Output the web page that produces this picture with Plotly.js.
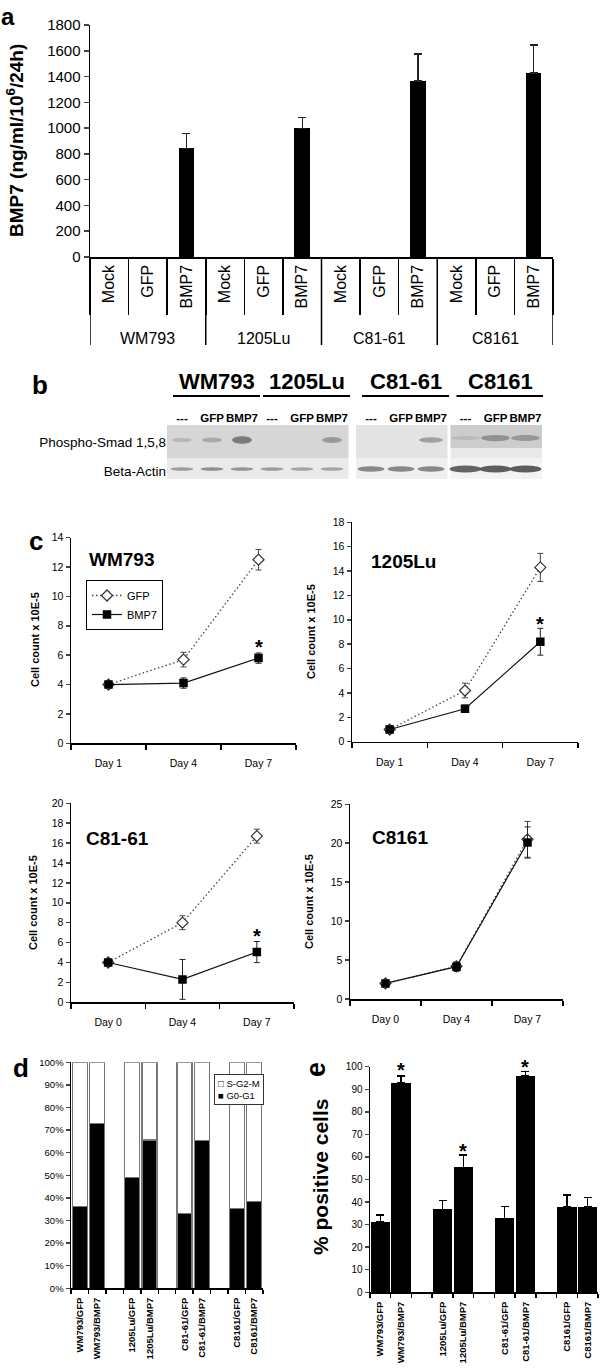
<!DOCTYPE html>
<html><head><meta charset="utf-8">
<script src="https://cdn.plot.ly/plotly-3.0.1.min.js"></script>
<style>html,body{margin:0;padding:0;background:#fff;} #chart{width:600px;height:1368px;}</style>
</head><body><div id="chart"></div>
<script>
// ---------------- DATA ----------------
// Panel a: BMP7 secretion (ng/ml/10^6/24h)
const aGroups = ['WM793', '1205Lu', 'C81-61', 'C8161'];
const aConditions = ['Mock', 'GFP', 'BMP7'];
const aValues = [0, 0, 842, 0, 0, 998, 0, 0, 1365, 0, 0, 1427];
const aErrors = [null, null, 117, null, null, 85, null, null, 210, null, null, 218];
const aYTicks = [0, 200, 400, 600, 800, 1000, 1200, 1400, 1600, 1800];

// Panel b: western blot (relative band signal 0..1)
const blotGroups = ['WM793', '1205Lu', 'C81-61', 'C8161'];
const blotGroupLanes = [[0, 2], [3, 5], [6, 8], [9, 11]];
const blotMembranes = [[0, 5], [6, 8], [9, 11]];
const blotLaneLabels = ['---', 'GFP', 'BMP7', '---', 'GFP', 'BMP7', '---', 'GFP', 'BMP7', '---', 'GFP', 'BMP7'];
const blotRows = ['Phospho-Smad 1,5,8', 'Beta-Actin'];
const blotPhospho = [0.25, 0.35, 0.75, 0, 0, 0.5, 0, 0, 0.45, 0.2, 0.55, 0.5];
const blotActin = [0.45, 0.55, 0.5, 0.45, 0.4, 0.4, 0.6, 0.6, 0.6, 0.85, 0.9, 0.9];

// Panel c: growth curves (cell count x 10E-5)
const daysA = ['Day 1', 'Day 4', 'Day 7'];
const daysB = ['Day 0', 'Day 4', 'Day 7'];
const wm793Gfp = [4.0, 5.7, 12.5], wm793GfpErr = [0.05, 0.5, 0.7];
const wm793Bmp = [4.0, 4.1, 5.8], wm793BmpErr = [0.05, 0.35, 0.35];
const lu1205Gfp = [1.0, 4.2, 14.3], lu1205GfpErr = [0.1, 0.6, 1.15];
const lu1205Bmp = [1.0, 2.7, 8.2], lu1205BmpErr = [0.1, 0.3, 1.1];
const c8161aGfp = [4.0, 8.0, 16.7], c8161aGfpErr = [0.1, 0.7, 0.7];
const c8161aBmp = [4.0, 2.3, 5.05], c8161aBmpErr = [0.1, 2.0, 1.06];
const c8161Gfp = [2.0, 4.2, 20.5], c8161GfpErr = [0.1, 0.5, 2.3];
const c8161Bmp = [2.0, 4.15, 20.1], c8161BmpErr = [0.1, 0.6, 2.0];
const growthStars = [6.8, 10.0, 7.1, null];

// Panel d: cell cycle distribution (%)
const dSamples = ['WM793/GFP', 'WM793/BMP7', '1205Lu/GFP', '1205Lu/BMP7', 'C81-61/GFP', 'C81-61/BMP7', 'C8161/GFP', 'C8161/BMP7'];
const dG0G1 = [36.1, 73.0, 49.1, 65.6, 33.2, 65.3, 35.4, 38.3];
const dSG2M = dG0G1.map(v => 100 - v);

// Panel e: % positive cells
const eSamples = dSamples;
const eValues = [31.3, 92.9, 36.8, 55.4, 32.8, 95.9, 37.9, 37.9];
const eErrors = [3.0, 3.0, 3.8, 5.5, 5.1, 1.9, 5.2, 4.2];
const eStars = [null, 100.3, null, 64.2, null, 101.6, null, null];

// ---------------- LAYOUT HELPERS ----------------
const W = 600, H = 1368;
const FONT = 'Liberation Sans, Arial, Helvetica, sans-serif';
const dx = (a, b) => [a / W, b / W];
const dy = (top, bottom) => [1 - bottom / H, 1 - top / H];
const px = p => p / W;
const py = p => 1 - p / H;

const traces = [];
const shapes = [];
const annotations = [];
const layout = {
  width: W, height: H, margin: {l: 0, r: 0, t: 0, b: 0},
  paper_bgcolor: '#fff', plot_bgcolor: 'rgba(0,0,0,0)',
  font: {family: FONT, size: 12, color: '#000'},
  showlegend: true, barmode: 'stack', hovermode: false,
  legend: {x: px(86), y: py(580), xanchor: 'left', yanchor: 'top', bgcolor: '#fff', traceorder: 'normal',
           bordercolor: '#000', borderwidth: 1, font: {size: 11}, tracegroupgap: 0, itemwidth: 30}
};
const baseAxis = {showgrid: false, zeroline: false, showline: true, linecolor: '#000', linewidth: 1.5, fixedrange: true};
function label(text, x, y, size, angle, yanchor) {
  annotations.push({text: '<b>' + text + '</b>', x: px(x), y: py(y), xref: 'paper', yref: 'paper',
    showarrow: false, xanchor: 'center', yanchor: yanchor || 'middle', textangle: angle || 0, font: {size: size}});
}
function star(x, y, xa, ya, ymax, pxPerUnit) {
  // keep the annotation inside the axis range; shift it up by the overflow in pixels
  const yy = Math.min(y, ymax);
  annotations.push({text: '<b>*</b>', x: x, y: yy, xref: xa, yref: ya, showarrow: false,
    yshift: -4 + (y - yy) * pxPerUnit, font: {size: 20}});
}

// ---------------- PANEL A ----------------
const aX = aValues.map((_, i) => i);
const aLabels = aGroups.flatMap(() => aConditions);
traces.push({type: 'bar', x: aX, y: aValues, width: 0.4, marker: {color: '#000'}, showlegend: false,
  xaxis: 'x', yaxis: 'y',
  error_y: {type: 'data', symmetric: false, array: aErrors.map(e => e == null ? NaN : e),
            arrayminus: aErrors.map(e => e == null ? NaN : 0), color: '#222', thickness: 1.2, width: 4}});
layout.xaxis = Object.assign({}, baseAxis, {domain: dx(90, 553), anchor: 'y', range: [-0.5, 11.5],
  tickmode: 'array', tickvals: aX, ticktext: aLabels, tickangle: -90, ticks: '', tickfont: {size: 16},
  minor: {tickmode: 'array', tickvals: aX.map(i => i - 0.5).concat([aX.length - 0.5]), ticks: 'outside',
          ticklen: 56, tickwidth: 1.5, tickcolor: '#000'}});
layout.yaxis = Object.assign({}, baseAxis, {domain: dy(25, 257), anchor: 'x', range: [0, 1800],
  tickmode: 'array', tickvals: aYTicks, ticks: 'outside', ticklen: 5, tickwidth: 1.5, tickfont: {size: 15}});
aGroups.forEach((g, gi) => {
  const n = aConditions.length;
  annotations.push({text: g, x: gi * n + (n - 1) / 2, xref: 'x', y: py(338), yref: 'paper', showarrow: false,
    xanchor: 'center', yanchor: 'middle', font: {size: 16}});
});
for (let gi = 0; gi <= aGroups.length; gi++) {
  const xb = gi * aConditions.length - 0.5;
  shapes.push({type: 'line', xref: 'x', yref: 'paper', x0: xb, x1: xb, y0: py(257), y1: py(345),
    line: {color: '#000', width: 1.5}});
}
label('BMP7 (ng/ml/10<sup>6</sup>/24h)', 15, 141, 19, -90);
label('a', 8, 1, 24, 0, 'top');

// ---------------- PANEL B (blot) ----------------
const membraneOffset = [0, 0.3, 0.45];
const laneMembrane = blotLaneLabels.map((_, i) => blotMembranes.findIndex(m => i >= m[0] && i <= m[1]));
const lanePos = blotLaneLabels.map((_, i) => i + membraneOffset[laneMembrane[i]]);
traces.push({type: 'scatter', x: [], y: [], xaxis: 'x8', yaxis: 'y8', showlegend: false});
layout.xaxis8 = {domain: dx(167, 543), anchor: 'y8', range: [-0.5, 12.033], side: 'top',
  tickmode: 'array', tickvals: lanePos, ticktext: blotLaneLabels.map(t => '<b>' + t + '</b>'), tickangle: 0,
  ticks: '', showline: false, showgrid: false, zeroline: false, fixedrange: true,
  tickfont: {size: 11.5}};
layout.yaxis8 = {domain: dy(425, 479), anchor: 'x8', range: [54, 0], tickmode: 'array',
  tickvals: [17, 46], ticktext: blotRows, ticks: '', showline: false, showgrid: false, zeroline: false,
  fixedrange: true, tickfont: {size: 13.5}};
const memPhosBg = ['#d6d6d6', '#e3e3e3', '#cccccc'];
const memPhosBottom = [32, 32, 23];
const memMidBg = ['#d6d6d6', '#e3e3e3', '#e9e9e9'];
const memActBg = ['#eaeaea', '#efefef', '#f3f3f3'];
const memBandHW = [0.33, 0.4, 0.48];
const memActHH = [1.8, 2.8, 3.6];
blotMembranes.forEach((m, mi) => {
  const x0 = lanePos[m[0]] - 0.5, x1 = lanePos[m[1]] + 0.55;
  shapes.push({type: 'rect', xref: 'x8', yref: 'y8', x0, x1, y0: 0, y1: memPhosBottom[mi], line: {width: 0}, fillcolor: memPhosBg[mi], layer: 'below'});
  shapes.push({type: 'rect', xref: 'x8', yref: 'y8', x0, x1, y0: memPhosBottom[mi], y1: 33, line: {width: 0}, fillcolor: memMidBg[mi], layer: 'below'});
  shapes.push({type: 'rect', xref: 'x8', yref: 'y8', x0, x1, y0: 33, y1: 54, line: {width: 0}, fillcolor: memActBg[mi], layer: 'below'});
});
const gray = v => { const g = Math.round(v); return 'rgb(' + g + ',' + g + ',' + g + ')'; };
blotLaneLabels.forEach((_, i) => {
  const mi = laneMembrane[i], cx = lanePos[i];
  const s = blotPhospho[i];
  if (s > 0) {
    const hw = memBandHW[mi], hh = 1.2 + 3.5 * s, cy = mi === 2 ? 13 : 15;
    shapes.push({type: 'circle', xref: 'x8', yref: 'y8', x0: cx - hw, x1: cx + hw, y0: cy - hh, y1: cy + hh,
      line: {width: 0}, fillcolor: gray(210 - 130 * s), opacity: 0.9});
  }
  const a = blotActin[i];
  const hwA = memBandHW[mi] + 0.05, hhA = memActHH[mi], cyA = 44;
  shapes.push({type: 'circle', xref: 'x8', yref: 'y8', x0: cx - hwA, x1: cx + hwA, y0: cyA - hhA, y1: cyA + hhA,
    line: {width: 0}, fillcolor: gray(220 - 160 * a), opacity: 0.9});
});
blotGroups.forEach((g, gi) => {
  const l = blotGroupLanes[gi];
  const x0 = lanePos[l[0]] - 0.3, x1 = lanePos[l[1]] + 0.6;
  shapes.push({type: 'line', xref: 'x8', yref: 'paper', x0, x1, y0: py(396), y1: py(396), line: {color: '#000', width: 2}});
  annotations.push({text: '<b>' + g + '</b>', x: (x0 + x1) / 2, xref: 'x8', y: py(382), yref: 'paper',
    showarrow: false, xanchor: 'center', yanchor: 'middle', font: {size: 22}});
});
label('b', 40, 385, 26);

// ---------------- PANEL C ----------------
function growth(n, xd, yd, yrange, dtick, days, gfp, gfpErr, bmp, bmpErr, st, title, tpos, ytpos, leg) {
  const xa = 'x' + n, ya = 'y' + n;
  traces.push({type: 'scatter', mode: 'lines+markers', name: 'GFP', x: [0, 1, 2], y: gfp, xaxis: xa, yaxis: ya,
    showlegend: leg, line: {color: '#444', width: 1.3, dash: '1.5px,2.5px'},
    marker: {symbol: 'diamond', size: 8.5, color: '#fff', line: {color: '#333', width: 1.2}},
    error_y: {type: 'data', array: gfpErr, color: '#444', thickness: 1, width: 3}});
  traces.push({type: 'scatter', mode: 'lines+markers', name: 'BMP7', x: [0, 1, 2], y: bmp, xaxis: xa, yaxis: ya,
    showlegend: leg, line: {color: '#111', width: 1.2},
    marker: {symbol: 'square', size: 8.5, color: '#000'},
    error_y: {type: 'data', array: bmpErr, color: '#222', thickness: 1, width: 3}});
  layout['xaxis' + n] = Object.assign({}, baseAxis, {domain: xd, anchor: ya, range: [-0.5, 2.5],
    tickmode: 'array', tickvals: [0, 1, 2], ticktext: days, ticks: '', tickfont: {size: 10.5}, ticklabelstandoff: 10,
    minor: {tickmode: 'array', tickvals: [-0.5, 0.5, 1.5, 2.5], ticks: 'outside', ticklen: 5, tickwidth: 1.5, tickcolor: '#000'}});
  const yPx = (yd[1] - yd[0]) * H / (yrange[1] - yrange[0]);
  layout['yaxis' + n] = Object.assign({}, baseAxis, {domain: yd, anchor: xa, range: yrange, dtick: dtick,
    ticks: 'outside', ticklen: 4, tickwidth: 1.5, tickfont: {size: 10.5}});
  if (st != null) star(2, st, xa, ya, yrange[1], yPx);
  label(title, tpos[0], tpos[1], 19);
  label('Cell count x 10E-5', ytpos[0], ytpos[1], 11, -90);
}
growth(2, dx(71, 296), dy(537.7, 743.3), [0, 14], 2, daysA, wm793Gfp, wm793GfpErr, wm793Bmp, wm793BmpErr, growthStars[0], 'WM793', [121.5, 559], [35, 640], true);
growth(3, dx(352, 578), dy(522.3, 741.7), [0, 18], 2, daysA, lu1205Gfp, lu1205GfpErr, lu1205Bmp, lu1205BmpErr, growthStars[1], '1205Lu', [403.5, 561], [311, 632], false);
growth(4, dx(71, 294), dy(803.3, 1002.3), [0, 20], 2, daysB, c8161aGfp, c8161aGfpErr, c8161aBmp, c8161aBmpErr, growthStars[2], 'C81-61', [117.5, 838.5], [33, 903], false);
growth(5, dx(350, 563), dy(804.3, 999), [0, 25], 5, daysB, c8161Gfp, c8161GfpErr, c8161Bmp, c8161BmpErr, growthStars[3], 'C8161', [400, 837.5], [309, 902], false);
label('c', 36, 541, 26);

// ---------------- PANEL D ----------------
const pos = dSamples.map((_, i) => i + Math.floor(i / 2));
traces.push({type: 'bar', name: 'G0-G1', x: pos, y: dG0G1, width: 0.86, xaxis: 'x6', yaxis: 'y6', showlegend: false,
  marker: {color: '#000', line: {color: '#777', width: 1.2}}});
traces.push({type: 'bar', name: 'S-G2-M', x: pos, y: dSG2M, width: 0.86, xaxis: 'x6', yaxis: 'y6', showlegend: false,
  marker: {color: '#fff', line: {color: '#777', width: 1.2}}});
const catAxis = (xd, anchor, labels) => Object.assign({}, baseAxis, {domain: xd, anchor: anchor, range: [-0.5, 10.5],
  tickmode: 'array', tickvals: pos, ticktext: labels.map(t => '<b>' + t + '</b>'), tickangle: -90, ticks: '',
  tickfont: {size: 9.5}, ticklabelstandoff: 4,
  minor: {tickmode: 'linear', tick0: -0.5, dtick: 1, ticks: 'outside', ticklen: 4, tickwidth: 1.5, tickcolor: '#000'}});
layout.xaxis6 = catAxis(dx(71, 263), 'y6', dSamples);
layout.yaxis6 = Object.assign({}, baseAxis, {domain: dy(1062.3, 1288.3), anchor: 'x6', range: [0, 100], dtick: 10,
  ticksuffix: '%', ticks: 'outside', ticklen: 4, tickwidth: 1.5, tickfont: {size: 9.5}});
annotations.push({text: '\u25A1 S-G2-M<br>\u25A0 G0-G1', x: px(214), y: py(1074), xref: 'paper', yref: 'paper',
  xanchor: 'left', yanchor: 'top', align: 'left', showarrow: false, bgcolor: '#fff', bordercolor: '#333',
  borderwidth: 1, borderpad: 3, font: {size: 9.5}});
label('d', 21, 1068, 26);

// ---------------- PANEL E ----------------
traces.push({type: 'bar', x: pos, y: eValues, width: 0.94, xaxis: 'x7', yaxis: 'y7', showlegend: false,
  marker: {color: '#000'},
  error_y: {type: 'data', symmetric: false, array: eErrors, arrayminus: eErrors.map(() => 0), color: '#000', thickness: 1.2, width: 4}});
layout.xaxis7 = catAxis(dx(370, 598), 'y7', eSamples);
const eDom = dy(1066.7, 1292.3);
layout.yaxis7 = Object.assign({}, baseAxis, {domain: eDom, anchor: 'x7', range: [0, 100], dtick: 10,
  ticks: 'outside', ticklen: 4, tickwidth: 1.5, tickfont: {size: 10}});
eStars.forEach((s, i) => { if (s != null) star(pos[i], s, 'x7', 'y7', 100, (eDom[1] - eDom[0]) * H / 100); });
label('% positive cells', 320, 1177, 21, -90);
label('e', 316, 1069, 27, -90);

layout.shapes = shapes;
layout.annotations = annotations;
Plotly.newPlot('chart', traces, layout, {staticPlot: true, displayModeBar: false});
</script>
</body></html>
